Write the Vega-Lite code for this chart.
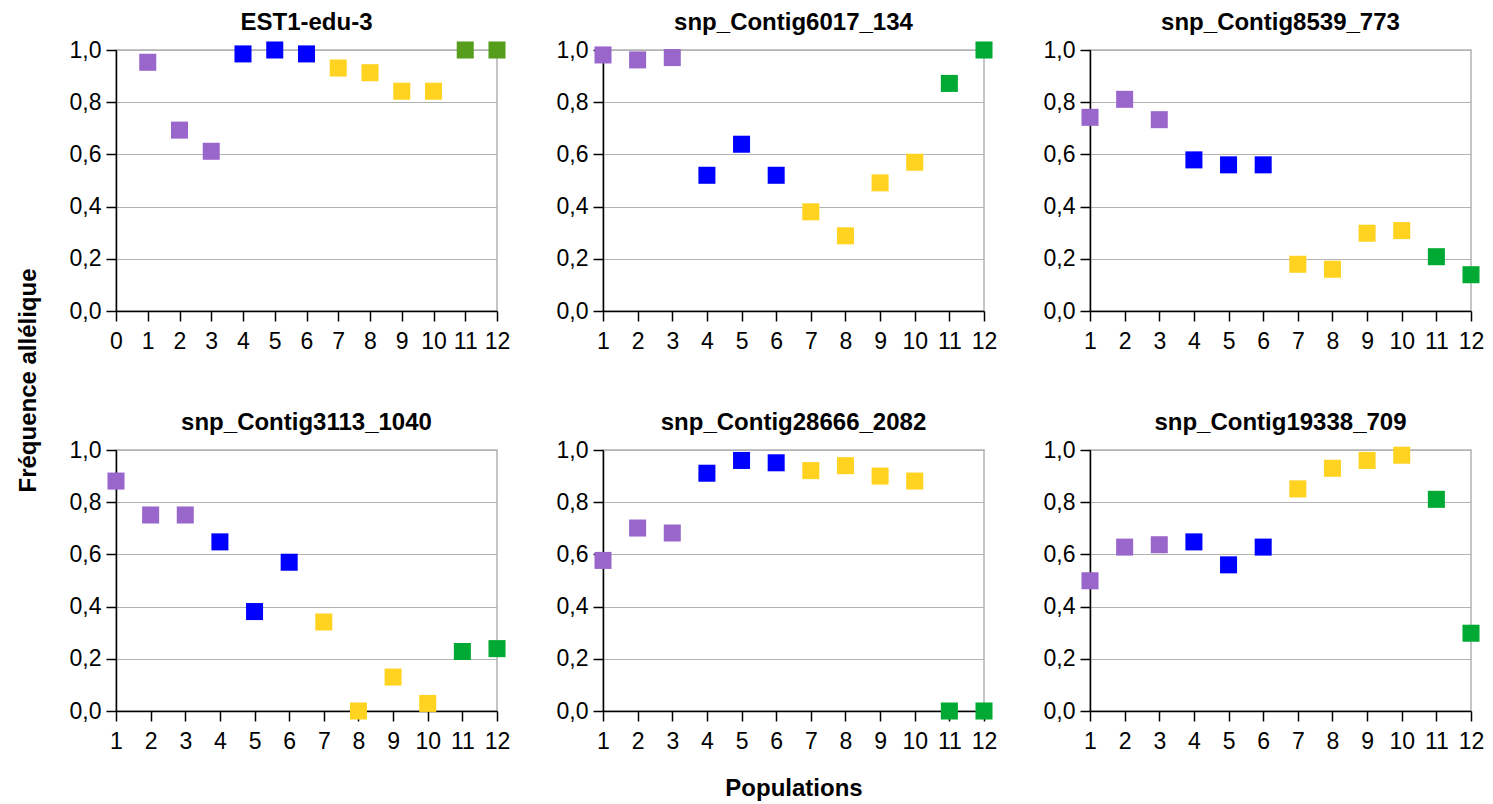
{
  "$schema": "https://vega.github.io/schema/vega-lite/v6.json",
  "background": "white",
  "padding": {"left": 15, "top": 10, "right": 5, "bottom": 5},
  "datasets": {
    "freq": [
      {"panel": "EST1-edu-3", "pop": 1, "freq": 0.953, "group": "violet"},
      {"panel": "EST1-edu-3", "pop": 2, "freq": 0.693, "group": "violet"},
      {"panel": "EST1-edu-3", "pop": 3, "freq": 0.612, "group": "violet"},
      {"panel": "EST1-edu-3", "pop": 4, "freq": 0.985, "group": "bleu"},
      {"panel": "EST1-edu-3", "pop": 5, "freq": 1.0, "group": "bleu"},
      {"panel": "EST1-edu-3", "pop": 6, "freq": 0.985, "group": "bleu"},
      {"panel": "EST1-edu-3", "pop": 7, "freq": 0.931, "group": "jaune"},
      {"panel": "EST1-edu-3", "pop": 8, "freq": 0.913, "group": "jaune"},
      {"panel": "EST1-edu-3", "pop": 9, "freq": 0.842, "group": "jaune"},
      {"panel": "EST1-edu-3", "pop": 10, "freq": 0.842, "group": "jaune"},
      {"panel": "EST1-edu-3", "pop": 11, "freq": 1.0, "group": "olive"},
      {"panel": "EST1-edu-3", "pop": 12, "freq": 1.0, "group": "olive"},

      {"panel": "snp_Contig6017_134", "pop": 1, "freq": 0.981, "group": "violet"},
      {"panel": "snp_Contig6017_134", "pop": 2, "freq": 0.962, "group": "violet"},
      {"panel": "snp_Contig6017_134", "pop": 3, "freq": 0.971, "group": "violet"},
      {"panel": "snp_Contig6017_134", "pop": 4, "freq": 0.52, "group": "bleu"},
      {"panel": "snp_Contig6017_134", "pop": 5, "freq": 0.639, "group": "bleu"},
      {"panel": "snp_Contig6017_134", "pop": 6, "freq": 0.52, "group": "bleu"},
      {"panel": "snp_Contig6017_134", "pop": 7, "freq": 0.38, "group": "jaune"},
      {"panel": "snp_Contig6017_134", "pop": 8, "freq": 0.288, "group": "jaune"},
      {"panel": "snp_Contig6017_134", "pop": 9, "freq": 0.491, "group": "jaune"},
      {"panel": "snp_Contig6017_134", "pop": 10, "freq": 0.57, "group": "jaune"},
      {"panel": "snp_Contig6017_134", "pop": 11, "freq": 0.872, "group": "vert"},
      {"panel": "snp_Contig6017_134", "pop": 12, "freq": 1.0, "group": "vert"},

      {"panel": "snp_Contig8539_773", "pop": 1, "freq": 0.742, "group": "violet"},
      {"panel": "snp_Contig8539_773", "pop": 2, "freq": 0.811, "group": "violet"},
      {"panel": "snp_Contig8539_773", "pop": 3, "freq": 0.733, "group": "violet"},
      {"panel": "snp_Contig8539_773", "pop": 4, "freq": 0.579, "group": "bleu"},
      {"panel": "snp_Contig8539_773", "pop": 5, "freq": 0.56, "group": "bleu"},
      {"panel": "snp_Contig8539_773", "pop": 6, "freq": 0.56, "group": "bleu"},
      {"panel": "snp_Contig8539_773", "pop": 7, "freq": 0.179, "group": "jaune"},
      {"panel": "snp_Contig8539_773", "pop": 8, "freq": 0.16, "group": "jaune"},
      {"panel": "snp_Contig8539_773", "pop": 9, "freq": 0.298, "group": "jaune"},
      {"panel": "snp_Contig8539_773", "pop": 10, "freq": 0.308, "group": "jaune"},
      {"panel": "snp_Contig8539_773", "pop": 11, "freq": 0.208, "group": "vert"},
      {"panel": "snp_Contig8539_773", "pop": 12, "freq": 0.139, "group": "vert"},

      {"panel": "snp_Contig3113_1040", "pop": 1, "freq": 0.881, "group": "violet"},
      {"panel": "snp_Contig3113_1040", "pop": 2, "freq": 0.751, "group": "violet"},
      {"panel": "snp_Contig3113_1040", "pop": 3, "freq": 0.751, "group": "violet"},
      {"panel": "snp_Contig3113_1040", "pop": 4, "freq": 0.648, "group": "bleu"},
      {"panel": "snp_Contig3113_1040", "pop": 5, "freq": 0.381, "group": "bleu"},
      {"panel": "snp_Contig3113_1040", "pop": 6, "freq": 0.57, "group": "bleu"},
      {"panel": "snp_Contig3113_1040", "pop": 7, "freq": 0.341, "group": "jaune"},
      {"panel": "snp_Contig3113_1040", "pop": 8, "freq": 0.0, "group": "jaune"},
      {"panel": "snp_Contig3113_1040", "pop": 9, "freq": 0.13, "group": "jaune"},
      {"panel": "snp_Contig3113_1040", "pop": 10, "freq": 0.029, "group": "jaune"},
      {"panel": "snp_Contig3113_1040", "pop": 11, "freq": 0.228, "group": "vert"},
      {"panel": "snp_Contig3113_1040", "pop": 12, "freq": 0.239, "group": "vert"},

      {"panel": "snp_Contig28666_2082", "pop": 1, "freq": 0.577, "group": "violet"},
      {"panel": "snp_Contig28666_2082", "pop": 2, "freq": 0.701, "group": "violet"},
      {"panel": "snp_Contig28666_2082", "pop": 3, "freq": 0.682, "group": "violet"},
      {"panel": "snp_Contig28666_2082", "pop": 4, "freq": 0.911, "group": "bleu"},
      {"panel": "snp_Contig28666_2082", "pop": 5, "freq": 0.96, "group": "bleu"},
      {"panel": "snp_Contig28666_2082", "pop": 6, "freq": 0.951, "group": "bleu"},
      {"panel": "snp_Contig28666_2082", "pop": 7, "freq": 0.921, "group": "jaune"},
      {"panel": "snp_Contig28666_2082", "pop": 8, "freq": 0.94, "group": "jaune"},
      {"panel": "snp_Contig28666_2082", "pop": 9, "freq": 0.9, "group": "jaune"},
      {"panel": "snp_Contig28666_2082", "pop": 10, "freq": 0.881, "group": "jaune"},
      {"panel": "snp_Contig28666_2082", "pop": 11, "freq": 0.0, "group": "vert"},
      {"panel": "snp_Contig28666_2082", "pop": 12, "freq": 0.0, "group": "vert"},

      {"panel": "snp_Contig19338_709", "pop": 1, "freq": 0.499, "group": "violet"},
      {"panel": "snp_Contig19338_709", "pop": 2, "freq": 0.628, "group": "violet"},
      {"panel": "snp_Contig19338_709", "pop": 3, "freq": 0.637, "group": "violet"},
      {"panel": "snp_Contig19338_709", "pop": 4, "freq": 0.648, "group": "bleu"},
      {"panel": "snp_Contig19338_709", "pop": 5, "freq": 0.56, "group": "bleu"},
      {"panel": "snp_Contig19338_709", "pop": 6, "freq": 0.628, "group": "bleu"},
      {"panel": "snp_Contig19338_709", "pop": 7, "freq": 0.851, "group": "jaune"},
      {"panel": "snp_Contig19338_709", "pop": 8, "freq": 0.93, "group": "jaune"},
      {"panel": "snp_Contig19338_709", "pop": 9, "freq": 0.96, "group": "jaune"},
      {"panel": "snp_Contig19338_709", "pop": 10, "freq": 0.98, "group": "jaune"},
      {"panel": "snp_Contig19338_709", "pop": 11, "freq": 0.811, "group": "vert"},
      {"panel": "snp_Contig19338_709", "pop": 12, "freq": 0.298, "group": "vert"}
    ]
  },
  "data": {"name": "freq"},
  "columns": 3,
  "bounds": "flush",
  "spacing": {"row": 139, "column": 106},
  "concat": [
    {
      "title": "EST1-edu-3",
      "width": 381, "height": 261,
      "transform": [{"filter": "datum.panel === 'EST1-edu-3'"}],
      "mark": {"type": "square", "size": 290, "opacity": 1},
      "encoding": {
        "x": {"field": "pop", "type": "quantitative", "scale": {"domain": [0, 12], "nice": false, "zero": false},
              "axis": {"title": null, "values": [0,1,2,3,4,5,6,7,8,9,10,11,12]}},
        "y": {"field": "freq", "type": "quantitative", "scale": {"domain": [0, 1], "nice": false},
              "axis": {"title": "Fréquence allélique", "titleY": 330, "titlePadding": 29}},
        "color": {"field": "group", "type": "nominal", "legend": null,
                  "scale": {"domain": ["violet", "bleu", "jaune", "vert", "olive"], "range": ["#9966cc", "#0000ff", "#ffd320", "#00a933", "#579d1c"]}}
      }
    },
    {
      "title": "snp_Contig6017_134",
      "width": 381, "height": 261,
      "transform": [{"filter": "datum.panel === 'snp_Contig6017_134'"}],
      "mark": {"type": "square", "size": 290, "opacity": 1},
      "encoding": {
        "x": {"field": "pop", "type": "quantitative", "scale": {"domain": [1, 12], "nice": false, "zero": false},
              "axis": {"title": null, "values": [1,2,3,4,5,6,7,8,9,10,11,12]}},
        "y": {"field": "freq", "type": "quantitative", "scale": {"domain": [0, 1], "nice": false}, "axis": {"title": null}},
        "color": {"field": "group", "type": "nominal", "legend": null,
                  "scale": {"domain": ["violet", "bleu", "jaune", "vert", "olive"], "range": ["#9966cc", "#0000ff", "#ffd320", "#00a933", "#579d1c"]}}
      }
    },
    {
      "title": "snp_Contig8539_773",
      "width": 381, "height": 261,
      "transform": [{"filter": "datum.panel === 'snp_Contig8539_773'"}],
      "mark": {"type": "square", "size": 290, "opacity": 1},
      "encoding": {
        "x": {"field": "pop", "type": "quantitative", "scale": {"domain": [1, 12], "nice": false, "zero": false},
              "axis": {"title": null, "values": [1,2,3,4,5,6,7,8,9,10,11,12]}},
        "y": {"field": "freq", "type": "quantitative", "scale": {"domain": [0, 1], "nice": false}, "axis": {"title": null}},
        "color": {"field": "group", "type": "nominal", "legend": null,
                  "scale": {"domain": ["violet", "bleu", "jaune", "vert", "olive"], "range": ["#9966cc", "#0000ff", "#ffd320", "#00a933", "#579d1c"]}}
      }
    },
    {
      "title": "snp_Contig3113_1040",
      "width": 381, "height": 261,
      "transform": [{"filter": "datum.panel === 'snp_Contig3113_1040'"}],
      "mark": {"type": "square", "size": 290, "opacity": 1},
      "encoding": {
        "x": {"field": "pop", "type": "quantitative", "scale": {"domain": [1, 12], "nice": false, "zero": false},
              "axis": {"title": null, "values": [1,2,3,4,5,6,7,8,9,10,11,12]}},
        "y": {"field": "freq", "type": "quantitative", "scale": {"domain": [0, 1], "nice": false}, "axis": {"title": null}},
        "color": {"field": "group", "type": "nominal", "legend": null,
                  "scale": {"domain": ["violet", "bleu", "jaune", "vert", "olive"], "range": ["#9966cc", "#0000ff", "#ffd320", "#00a933", "#579d1c"]}}
      }
    },
    {
      "title": "snp_Contig28666_2082",
      "width": 381, "height": 261,
      "transform": [{"filter": "datum.panel === 'snp_Contig28666_2082'"}],
      "mark": {"type": "square", "size": 290, "opacity": 1},
      "encoding": {
        "x": {"field": "pop", "type": "quantitative", "scale": {"domain": [1, 12], "nice": false, "zero": false},
              "axis": {"title": "Populations", "titlePadding": 23, "values": [1,2,3,4,5,6,7,8,9,10,11,12]}},
        "y": {"field": "freq", "type": "quantitative", "scale": {"domain": [0, 1], "nice": false}, "axis": {"title": null}},
        "color": {"field": "group", "type": "nominal", "legend": null,
                  "scale": {"domain": ["violet", "bleu", "jaune", "vert", "olive"], "range": ["#9966cc", "#0000ff", "#ffd320", "#00a933", "#579d1c"]}}
      }
    },
    {
      "title": "snp_Contig19338_709",
      "width": 381, "height": 261,
      "transform": [{"filter": "datum.panel === 'snp_Contig19338_709'"}],
      "mark": {"type": "square", "size": 290, "opacity": 1},
      "encoding": {
        "x": {"field": "pop", "type": "quantitative", "scale": {"domain": [1, 12], "nice": false, "zero": false},
              "axis": {"title": null, "values": [1,2,3,4,5,6,7,8,9,10,11,12]}},
        "y": {"field": "freq", "type": "quantitative", "scale": {"domain": [0, 1], "nice": false}, "axis": {"title": null}},
        "color": {"field": "group", "type": "nominal", "legend": null,
                  "scale": {"domain": ["violet", "bleu", "jaune", "vert", "olive"], "range": ["#9966cc", "#0000ff", "#ffd320", "#00a933", "#579d1c"]}}
      }
    }
  ],
  "resolve": {"scale": {"x": "independent", "y": "independent", "color": "independent"}, "axis": {"x": "independent", "y": "independent"}},
  "config": {
    "font": "Liberation Sans",
    "view": {"stroke": "#b3b3b3", "strokeWidth": 1.5},
    "axis": {
      "labelFont": "Liberation Sans", "labelFontSize": 23, "labelColor": "#000000",
      "titleFont": "Liberation Sans", "titleFontSize": 24, "titleFontWeight": "bold", "titleColor": "#000000",
      "domainColor": "#000000", "domainWidth": 1.5, "tickColor": "#000000", "tickWidth": 1.5, "tickSize": 10,
      "gridColor": "#b3b3b3", "gridWidth": 1, "gridOpacity": 1
    },
    "axisX": {"grid": false, "labelFlush": false, "labelOverlap": false, "labelPadding": 9, "format": "d"},
    "axisY": {"grid": true, "labelPadding": 5, "labelOverlap": false, "values": [0, 0.2, 0.4, 0.6, 0.8, 1.0],
              "labelExpr": "replace(format(datum.value, '.1f'), '.', ',')"},
    "title": {"font": "Liberation Sans", "fontSize": 24, "fontWeight": "bold", "color": "#000000", "frame": "group", "anchor": "middle", "offset": 4}
  }
}
